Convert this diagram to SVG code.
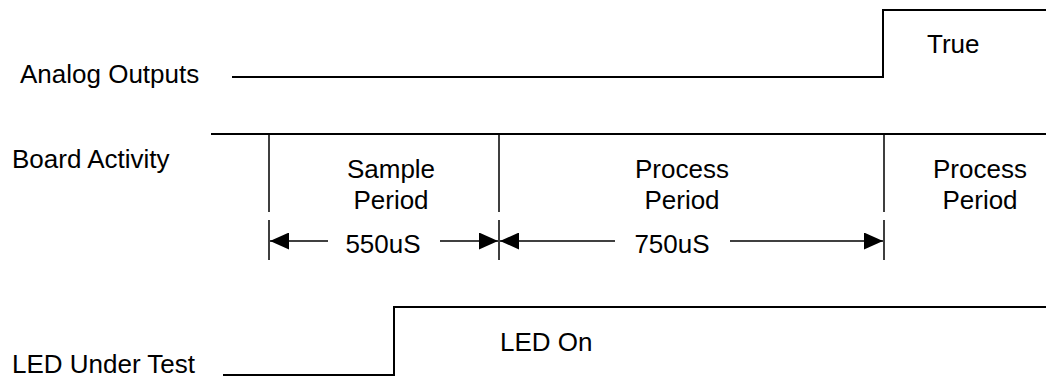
<svg xmlns="http://www.w3.org/2000/svg" width="1046" height="378" viewBox="0 0 1046 378">
<style>
text{font-family:"Liberation Sans",Arial,sans-serif;font-size:26px;fill:#000}
.l{fill:none;stroke:#000;stroke-width:2}
.t{fill:none;stroke:#000;stroke-width:1.5}
</style>
<defs>
<marker id="ah" markerWidth="19" markerHeight="17" refX="19" refY="8.5" orient="auto" markerUnits="userSpaceOnUse">
<path d="M0,0 L19,8.5 L0,17 Z" fill="#000"/>
</marker>
</defs>
<rect width="1046" height="378" fill="#fff"/>
<g id="analog">
<text x="20" y="83">Analog Outputs</text>
<path class="l" d="M232,77 H883 V10 H1046"/>
<text x="927" y="53">True</text>
</g>
<g id="board">
<text x="12" y="168">Board Activity</text>
<path class="l" d="M211,134 H1046"/>
<path class="t" d="M269,134 V212 M499,134 V212 M884,134 V212"/>
<text x="391" y="178" text-anchor="middle">Sample</text>
<text x="391" y="209" text-anchor="middle">Period</text>
<text x="682" y="178" text-anchor="middle">Process</text>
<text x="682" y="209" text-anchor="middle">Period</text>
<text x="980" y="178" text-anchor="middle">Process</text>
<text x="980" y="209" text-anchor="middle">Period</text>
</g>
<g id="led">
<text x="12" y="373">LED Under Test</text>
<path class="l" d="M223,375 H394 V307 H1046"/>
<text x="500" y="351">LED On</text>
</g>
<g id="connectors">
<path class="t" d="M269,220 V260 M499,220 V260 M884,220 V260"/>
<path class="t" d="M328,241 H270" marker-end="url(#ah)"/>
<text x="383" y="253" text-anchor="middle">550uS</text>
<path class="t" d="M440,241 H498" marker-end="url(#ah)"/>
<path class="t" d="M615,241 H500" marker-end="url(#ah)"/>
<text x="672" y="253" text-anchor="middle">750uS</text>
<path class="t" d="M730,241 H883" marker-end="url(#ah)"/>
</g>
</svg>
